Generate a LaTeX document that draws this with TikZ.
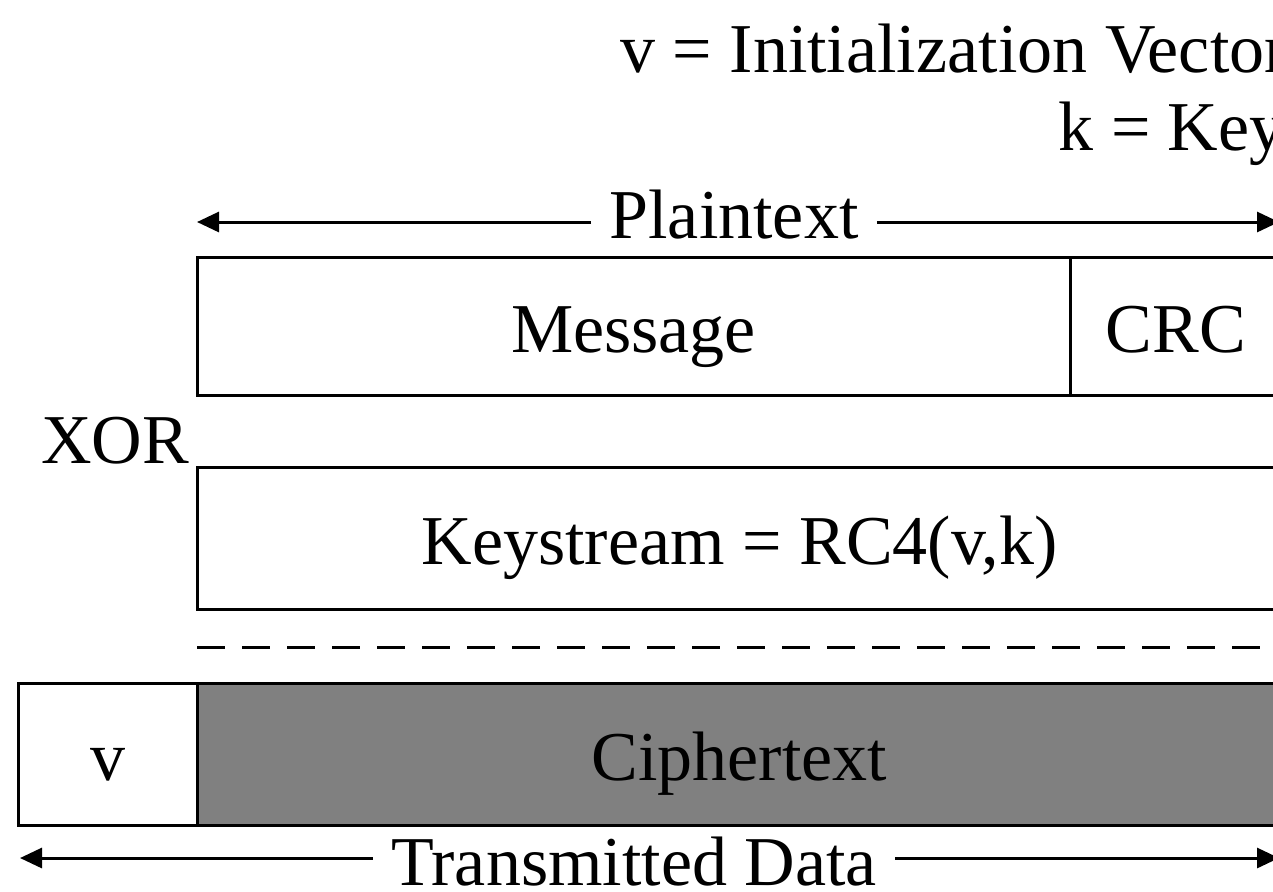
\documentclass[tikz,border=0pt]{standalone}
\usepackage{fontspec}
\setmainfont{Liberation Serif}
\usetikzlibrary{positioning, arrows.meta}
\definecolor{cipherfill}{HTML}{808080}
\newcommand{\Lbl}{\fontsize{35}{42}\selectfont}
\tikzset{
    field/.style={draw, line width=1.5pt, inner sep=0pt, outer sep=0pt,
      minimum height=71pt, text height=26pt, text depth=0pt, font=\Lbl},
    caption/.style={inner sep=0pt, font=\Lbl},
    span/.style={line width=1.5pt, -{Triangle[length=11pt,width=10pt]}},
    cut/.style={line width=1.5pt, dash pattern=on 14pt off 8.5pt},
}
\begin{document}
\begin{tikzpicture}[x=0.5pt, y=-0.5pt]
    \useasboundingbox (0,0) rectangle (1273,891);
    \clip (0,0) rectangle (1273,891);

    % legend
    \node[caption, anchor=base east] (ivdef) at (1288,72) {v = Initialization Vector};
    \node[caption, anchor=base east] (keydef) at (1285,150) {k = Key};

    % plaintext
    \node[field, minimum width=436.5pt, minimum height=69pt] (msg) at (633.5,326) {Message};
    \node[field, right=0pt of msg, minimum width=106pt, minimum height=69pt] (crc) {CRC};
    \node[caption, anchor=base, inner xsep=9pt] (plain) at (734,238) {Plaintext};
    \coordinate (plainL) at (197,222);
    \coordinate (plainR) at (1279,222);
    \draw[span] (plain.west |- plainL) -- (plainL);
    \draw[span] (plain.east |- plainR) -- (plainR);

    \node[caption, anchor=base] (xor) at (115,463) {XOR};
    \node[field, minimum width=542.5pt] (keys) at (739.5,538.5) {Keystream = RC4(v,k)};

    \coordinate (cutL) at (197,647);
    \coordinate (cutR) at (1290,647);
    \draw[cut] (cutL) -- (cutR);

    % transmitted
    \node[field, fill=cipherfill, minimum width=542.5pt] (ctext) at (739.5,754.5) {Ciphertext};
    \node[field, left=0pt of ctext, minimum width=89.5pt] (iv) {v};
    \node[caption, anchor=base, inner xsep=9pt] (tdata) at (634,885) {Transmitted Data};
    \coordinate (dataL) at (20,858);
    \coordinate (dataR) at (1279,858);
    \draw[span] (tdata.west |- dataL) -- (dataL);
    \draw[span] (tdata.east |- dataR) -- (dataR);
\end{tikzpicture}
\end{document}
